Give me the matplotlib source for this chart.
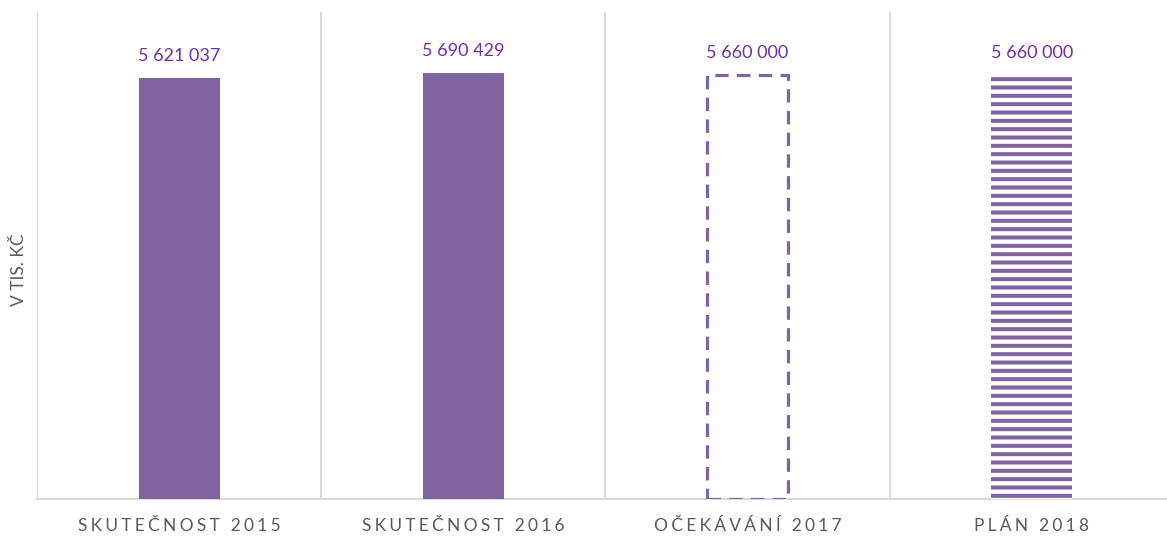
"""Bar chart: skutečnost / očekávání / plán, v tis. Kč."""

import matplotlib

matplotlib.use("Agg")
import matplotlib.pyplot as plt  # noqa: E402

categories = ["SKUTEČNOST 2015", "SKUTEČNOST 2016", "OČEKÁVÁNÍ 2017", "PLÁN 2018"]
values = [5621037, 5690429, 5660000, 5660000]
value_labels = ["5 621 037", "5 690 429", "5 660 000", "5 660 000"]
y_label = "V TIS. KČ"

PURPLE = "#8064A2"
LABEL_PURPLE = "#7030A0"
GRID = "#D9D9D9"
TEXT_GRAY = "#595959"

plt.rcParams["font.family"] = ["Lato", "DejaVu Sans"]
plt.rcParams["hatch.linewidth"] = 2.9


def tracked(s: str) -> str:
    """Spread letters out a little, like the wide tracking in the original."""
    return "\u2009\u200a".join(s)


fig = plt.figure(figsize=(11.67, 5.39), dpi=100)
ax = fig.add_axes([37 / 1167, 40 / 539, 1137 / 1167, 487 / 539])

x = list(range(len(categories)))
width = 0.285

# solid bars for actuals
ax.bar(x[:2], values[:2], width=width, color=PURPLE, zorder=3)
# dashed outline for expected
ax.bar(x[2], values[2], width=width, facecolor="none", edgecolor=PURPLE,
       linewidth=2.3, linestyle=(0, (4.2, 2.6)), zorder=3)
# horizontal stripes for plan
ax.bar(x[3], values[3], width=width, facecolor="white", edgecolor=PURPLE,
       linewidth=0, hatch="--", zorder=3)

for xi, v, lab in zip(x, values, value_labels):
    ax.annotate(lab, (xi, v), xytext=(0, 14), textcoords="offset pixels",
                ha="center", va="bottom", fontsize=13, color=LABEL_PURPLE)

ax.set_xlim(-0.5, len(categories) - 0.5)
ax.set_ylim(0, 6500000)

# category separators
for b in [i - 0.5 for i in range(len(categories) + 1)]:
    ax.axvline(b, color=GRID, linewidth=1.5, zorder=1)

for side in ("top", "right", "left"):
    ax.spines[side].set_visible(False)
ax.spines["bottom"].set_color(GRID)
ax.spines["bottom"].set_linewidth(1.5)

ax.set_yticks([])
ax.set_xticks(x)
ax.set_xticklabels([tracked(c) for c in categories], fontsize=12.5, color=TEXT_GRAY)
ax.tick_params(axis="x", length=0, pad=14)

fig.text(19 / 1167, 1 - 270 / 539, y_label, rotation=90, ha="center", va="center",
         fontsize=12.5, color=TEXT_GRAY)

fig.savefig("out.png", dpi=100)
plt.close(fig)
